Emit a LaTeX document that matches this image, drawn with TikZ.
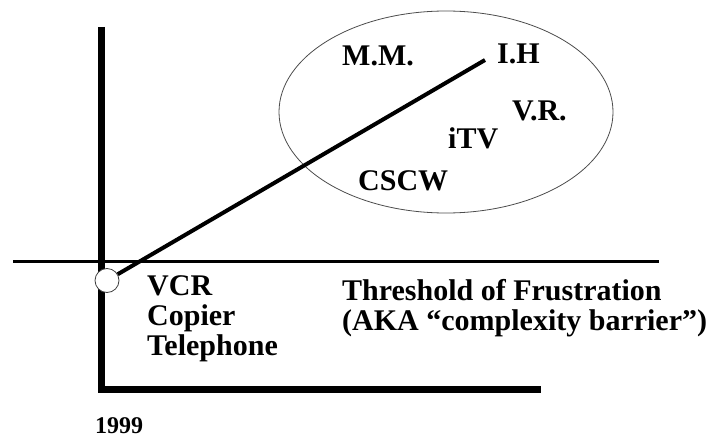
\documentclass[tikz,border=0pt]{standalone}
\usepackage{fontspec}
\setmainfont{Liberation Serif}
\usetikzlibrary{shapes.geometric}
\begin{document}
\begin{tikzpicture}[x=1pt,y=-1pt,
  lbl/.style={font=\fontsize{30}{31}\selectfont\bfseries, inner sep=0pt, anchor=base west},
  yearlbl/.style={font=\fontsize{24}{26}\selectfont\bfseries, inner sep=0pt, anchor=base west},
  axis/.style={line width=7pt},
  thresh/.style={line width=3pt},
  trend/.style={line width=4pt},
  region/.style={draw=black!70, line width=0.8pt}]
\useasboundingbox (0,0) rectangle (708,441);
% axes
\coordinate (ytop) at (101,27);
\coordinate (corner) at (101,389.5);
\coordinate (xend) at (541,389.5);
\draw[axis] (ytop) -- (101,393);
\draw[axis] (98,389.5) -- (xend);
% threshold line
\coordinate (tl) at (13,261);
\coordinate (tr) at (659,261);
\draw[thresh] (tl) -- (tr);
% ellipse region
\node[region, ellipse, minimum width=334pt, minimum height=202pt, inner sep=0pt] (reg) at (446,112) {};
% start circle
\node[circle, draw=black!75, fill=white, line width=0.8pt, minimum size=24pt, inner sep=0pt] (start) at (107,280.5) {};
\coordinate (ihend) at (485,60);
\draw[trend] (start) -- (ihend);
% labels in region
\node[lbl] (mm) at (342,66) {M.M.};
\node[lbl] (ih) at (497,64) {I.H};
\node[lbl] (vr) at (512,121) {V.R.};
\node[lbl] (itv) at (448,148) {iTV};
\node[lbl] (cscw) at (358,190) {CSCW};
% lower labels
\node[lbl] (vcr) at (147,295) {VCR};
\node[lbl] (copier) at (147,325) {Copier};
\node[lbl] (tel) at (147,355) {Telephone};
\node[lbl] (thr) at (342,300) {Threshold of Frustration};
\node[lbl] (aka) at (342,330) {(AKA ``complexity barrier'')};
\node[yearlbl] (year) at (95,433) {1999};
\end{tikzpicture}
\end{document}
